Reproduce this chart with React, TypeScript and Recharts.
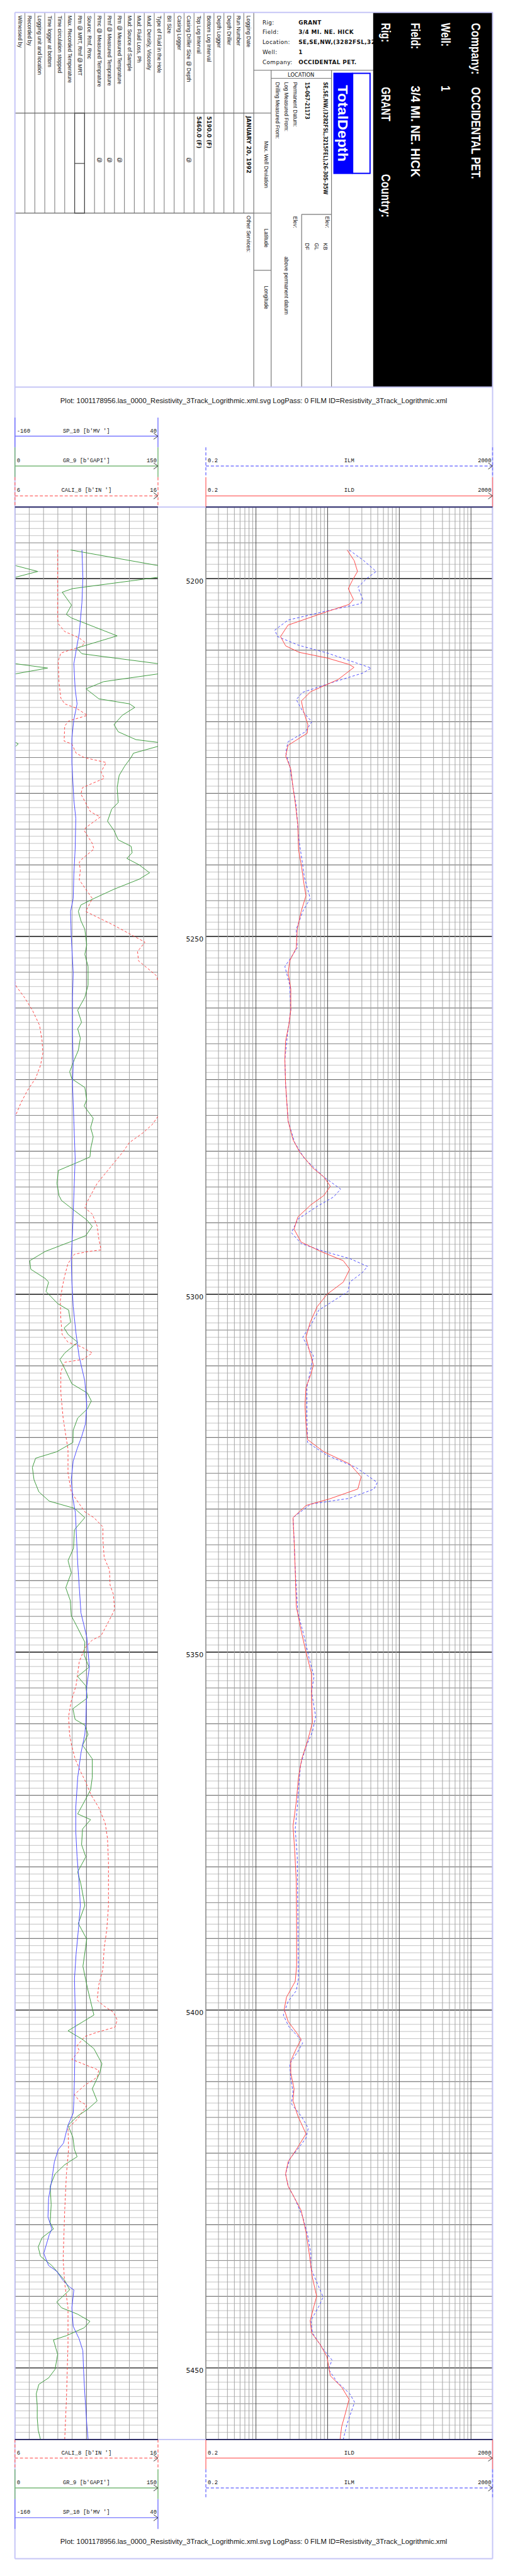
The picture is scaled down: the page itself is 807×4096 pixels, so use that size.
import { LineChart, Line, XAxis, YAxis, ReferenceLine } from 'recharts'

// depth interval of the plot, feet
const DEPTH_RANGE = [5190, 5460]
const DEPTH_LABELS = [5200, 5250, 5300, 5350, 5400, 5450]

// [depth, value]
const SP: [number, number][] = [
  [5196.0, -66.3], [5199.8, -65.0], [5203.3, -66.3], [5207.6, -70.0], [5209.8, -74.0], [5211.9, -77.6],
  [5215.4, -75.8], [5217.5, -73.1], [5219.7, -77.6], [5222.3, -80.4], [5225.7, -80.4], [5230.9, -77.6],
  [5233.5, -74.9], [5237.8, -75.8], [5241.3, -77.6], [5244.7, -78.5], [5246.5, -82.2], [5249.9, -81.3],
  [5255.1, -78.5], [5258.5, -79.5], [5263.7, -79.5], [5268.0, -78.5], [5270.6, -79.5], [5275.8, -77.6],
  [5281.0, -75.8], [5286.2, -77.6], [5291.4, -79.5], [5294.8, -81.3], [5298.3, -80.4], [5301.7, -78.5],
  [5305.2, -74.9], [5308.6, -70.4], [5312.1, -62.3], [5315.5, -59.5], [5318.1, -61.4], [5319.9, -66.8],
  [5321.6, -73.1], [5323.3, -78.5], [5325.9, -81.3], [5328.5, -79.0], [5330.5, -75.5], [5337.6, -72.2],
  [5344.5, -67.7], [5347.9, -59.5], [5350.0, -57.7], [5352.1, -55.9], [5354.7, -59.5], [5359.8, -60.9],
  [5361.5, -62.3], [5364.1, -67.7], [5367.5, -72.2], [5371.7, -74.9], [5375.1, -74.9], [5378.6, -73.1],
  [5382.0, -70.4], [5385.4, -68.6], [5388.8, -71.3], [5392.2, -74.5], [5395.6, -76.7], [5399.9, -75.8],
  [5404.1, -75.8], [5409.3, -76.7], [5412.7, -77.6], [5414.4, -78.5], [5416.1, -85.8], [5418.6, -92.1],
  [5419.5, -99.4], [5421.2, -104.8], [5423.7, -108.4], [5426.3, -112.9], [5428.9, -113.8], [5430.6, -108.4],
  [5431.4, -112.0], [5434.0, -119.7], [5435.7, -112.9], [5436.5, -101.6], [5437.8, -92.6], [5438.7, -83.5],
  [5439.1, -77.6], [5441.6, -80.4], [5444.2, -78.5], [5445.9, -70.4], [5447.6, -65.0], [5450.2, -64.1],
  [5453.6, -62.3], [5457.9, -59.5], [5460.0, -57.7],
]

const GR: [number, number][] = [
  [5196.0, 58.3], [5198.2, 151], [5199.0, 174], [5199.8, 151], [5201.4, 60.4], [5201.9, 49.6],
  [5203.7, 59.3], [5205.0, 53.9], [5205.5, 59.3], [5208.0, 107.2], [5209.7, 64.8], [5210.5, 70.2],
  [5211.9, 151], [5212.5, 184.3], [5213.3, 151], [5214.4, 93.0], [5215.4, 74.6], [5216.8, 88.0],
  [5217.5, 120.2], [5218.0, 125.7], [5219.1, 112.6], [5220.4, 103.9], [5221.4, 108.3], [5222.5, 126.9],
  [5222.9, 151], [5223.1, 153.5], [5223.4, 151], [5224.4, 124.2], [5225.0, 121.8], [5226.2, 115.1],
  [5227.5, 109.3], [5229.2, 107.2], [5231.3, 108.3], [5232.2, 101.5], [5233.9, 97.1], [5235.2, 103.9],
  [5236.5, 108.3], [5237.4, 121.8], [5238.3, 122.9], [5239.1, 117.4], [5240.0, 130.3], [5241.1, 141.2],
  [5242.0, 130.3], [5243.4, 103.9], [5244.7, 82.8], [5245.6, 69.2], [5246.5, 66.5], [5247.8, 69.2],
  [5249.0, 73.3], [5251.2, 75.3], [5252.5, 73.3], [5254.2, 76.7], [5256.8, 76.7], [5258.5, 73.3],
  [5260.3, 65.8], [5262.0, 69.9], [5262.9, 65.8], [5264.2, 68.6], [5265.9, 66.5], [5267.2, 62.4],
  [5268.9, 57.4], [5269.9, 59.7], [5271.1, 73.3], [5272.8, 75.3], [5273.7, 72.6], [5275.4, 82.1],
  [5276.7, 79.4], [5278.0, 82.1], [5279.7, 79.4], [5280.8, 78.7], [5281.4, 68.6], [5282.7, 45.5],
  [5284.5, 44.1], [5286.2, 46.2], [5286.9, 48.9], [5288.3, 62.4], [5289.6, 75.3], [5290.5, 81.1],
  [5291.8, 74.3], [5292.7, 57.4], [5294.0, 31.9], [5295.3, 15.6], [5296.5, 16.6], [5297.8, 31.9],
  [5298.3, 35.3], [5299.6, 32.6], [5301.3, 44.8], [5302.2, 56.3], [5303.9, 58.4], [5304.7, 51.6],
  [5305.6, 55.7], [5306.7, 65.8], [5308.2, 52.3], [5309.1, 47.2], [5310.4, 52.3], [5312.5, 59.7],
  [5313.8, 76.0], [5314.9, 80.1], [5316.0, 76.0], [5317.3, 65.8], [5319.0, 61.1], [5320.7, 60.8],
  [5322.0, 43.8], [5322.9, 21.7], [5324.2, 18.3], [5325.9, 20.0], [5327.6, 25.1], [5328.9, 36.0],
  [5329.9, 62.4], [5331.2, 73.3], [5332.9, 62.4], [5335.5, 61.4], [5337.2, 55.7], [5338.9, 59.1],
  [5341.0, 53.3], [5342.8, 58.1], [5344.9, 59.1], [5346.2, 64.2], [5348.6, 73.3], [5350.4, 72.6],
  [5352.1, 77.7], [5353.4, 65.8], [5354.7, 74.3], [5356.4, 76.0], [5357.9, 60.8], [5359.4, 63.1],
  [5360.2, 73.3], [5361.5, 76.7], [5363.0, 70.9], [5364.9, 81.1], [5367.5, 81.1], [5369.2, 79.4],
  [5370.5, 74.3], [5372.6, 65.8], [5373.4, 79.4], [5374.7, 70.9], [5376.9, 69.9], [5378.6, 74.3],
  [5380.7, 65.8], [5382.4, 69.2], [5385.4, 73.3], [5387.9, 66.5], [5390.1, 75.3], [5393.9, 71.3],
  [5396.9, 76.0], [5400.7, 82.8], [5402.9, 55.7], [5404.1, 70.9], [5405.4, 82.8], [5407.5, 91.3],
  [5408.8, 88.9], [5411.0, 81.1], [5412.7, 86.2], [5413.9, 76.0], [5414.8, 65.8], [5416.1, 55.7],
  [5417.8, 60.8], [5419.5, 62.4], [5420.5, 65.2], [5421.6, 52.3], [5422.9, 42.1], [5424.6, 37.0],
  [5427.2, 38.0], [5429.7, 37.0], [5430.6, 40.4], [5431.8, 28.5], [5433.1, 24.4], [5434.4, 26.8],
  [5435.7, 38.7], [5437.8, 52.3], [5439.1, 57.4], [5440.8, 43.8], [5441.6, 48.9], [5442.5, 65.8],
  [5443.5, 78.7], [5444.4, 72.6], [5445.5, 54.0], [5446.1, 40.4], [5447.2, 42.8], [5448.1, 44.8],
  [5450.2, 42.1], [5451.4, 35.3], [5452.3, 25.1], [5453.6, 22.4], [5455.3, 23.4], [5457.0, 23.4],
  [5458.7, 24.4], [5460.0, 26.8],
]

const CALI: [number, number][] = [
  [5196.0, 8.99], [5205.7, 8.99], [5206.3, 9.03], [5207.4, 9.48], [5208.3, 10.5], [5208.9, 10.89],
  [5209.5, 10.66], [5210.0, 9.82], [5210.4, 9.21], [5211.5, 9.03], [5214.5, 9.08], [5216.7, 9.21],
  [5217.5, 9.48], [5218.1, 10.28], [5219.1, 11.07], [5219.9, 9.75], [5220.6, 9.48], [5222.7, 9.44],
  [5223.1, 9.98], [5224.4, 10.28], [5225.0, 10.84], [5225.7, 12.38], [5227.0, 12.02], [5227.9, 12.25],
  [5229.2, 10.73], [5230.1, 10.61], [5231.8, 11.07], [5232.6, 11.29], [5233.3, 11.97], [5234.8, 10.95],
  [5235.2, 10.84], [5237.0, 11.41], [5237.8, 11.52], [5239.1, 10.73], [5239.6, 10.5], [5240.8, 10.57],
  [5242.1, 10.5], [5243.4, 10.95], [5244.7, 11.41], [5246.5, 10.95], [5247.3, 11.75], [5248.4, 12.88],
  [5250.8, 15.09], [5252.1, 14.57], [5253.4, 14.64], [5255.5, 15.9], [5257.0, 16.1], [5258.5, 16.66],
  [5260.3, 17.22], [5262.4, 17.72], [5264.6, 17.9], [5266.3, 17.95], [5268.0, 17.79], [5269.8, 17.45],
  [5271.5, 16.88], [5273.2, 16.43], [5275.0, 16.05], [5276.3, 15.59], [5277.5, 14.91], [5278.8, 14.0],
  [5280.1, 13.55], [5282.3, 12.65], [5284.5, 11.75], [5287.0, 11.07], [5287.9, 10.89], [5288.8, 11.41],
  [5290.5, 11.75], [5292.2, 11.86], [5293.8, 12.02], [5294.0, 11.18], [5294.4, 10.16], [5295.7, 9.71],
  [5297.4, 9.48], [5299.1, 9.3], [5300.9, 9.17], [5303.5, 9.21], [5305.6, 9.3], [5306.7, 9.71],
  [5307.3, 10.61], [5308.2, 11.41], [5309.1, 10.73], [5309.5, 9.48], [5310.8, 9.21], [5313.8, 9.21],
  [5317.3, 9.37], [5320.3, 9.6], [5321.6, 9.71], [5325.0, 9.71], [5327.6, 9.94], [5328.3, 10.16],
  [5330.4, 10.89], [5331.2, 11.52], [5332.5, 12.15], [5334.2, 12.15], [5336.8, 12.24], [5338.5, 12.61],
  [5340.6, 12.65], [5341.9, 12.88], [5344.0, 12.97], [5344.9, 12.76], [5346.2, 12.42], [5347.7, 12.02],
  [5348.3, 11.41], [5349.4, 10.89], [5351.3, 10.5], [5353.0, 10.39], [5354.7, 10.27], [5356.8, 9.94],
  [5359.0, 9.75], [5361.5, 9.82], [5363.2, 9.98], [5364.9, 10.21], [5366.6, 10.57], [5367.9, 10.89],
  [5370.0, 11.34], [5371.7, 11.86], [5373.9, 12.31], [5376.0, 12.47], [5379.4, 12.54], [5385.4, 12.54],
  [5388.8, 12.42], [5391.3, 12.24], [5394.3, 12.15], [5396.5, 11.86], [5398.6, 11.75], [5399.4, 12.2],
  [5400.3, 12.88], [5401.4, 13.15], [5402.4, 12.99], [5403.1, 11.75], [5403.7, 10.89], [5405.0, 10.34],
  [5405.7, 10.5], [5406.9, 9.98], [5408.4, 11.86], [5409.4, 11.75], [5410.5, 10.89], [5411.8, 10.16],
  [5412.7, 10.5], [5413.3, 11.02], [5415.2, 10.39], [5416.5, 9.71], [5419.5, 9.75], [5422.9, 9.6],
  [5428.0, 9.48], [5434.8, 9.37], [5438.2, 9.48], [5441.6, 9.71], [5446.7, 9.71], [5450.2, 9.66],
  [5454.4, 9.6], [5460.0, 9.48],
]

const ILD: [number, number][] = [
  [5196.0, 18.7], [5197.5, 23.5], [5199.0, 26.1], [5200.3, 22.0], [5201.4, 19.4], [5202.9, 22.9],
  [5203.6, 20.0], [5204.6, 9.9], [5206.5, 2.8], [5208.1, 2.2], [5209.4, 2.6], [5210.3, 4.0],
  [5211.1, 9.9], [5212.0, 20.0], [5212.4, 23.3], [5214.1, 14.0], [5215.8, 5.8], [5217.1, 4.3],
  [5218.5, 4.6], [5220.4, 5.3], [5221.6, 5.2], [5223.3, 2.8], [5224.8, 2.6], [5226.6, 3.06],
  [5229.2, 3.29], [5231.3, 3.53], [5234.4, 3.84], [5237.8, 3.92], [5240.4, 4.35], [5243.0, 4.73],
  [5244.3, 4.99], [5246.5, 4.27], [5249.0, 3.77], [5251.6, 3.65], [5253.4, 2.96], [5255.1, 2.81],
  [5257.3, 3.06], [5260.3, 3.06], [5262.4, 2.87], [5264.6, 2.59], [5267.2, 2.53], [5270.6, 2.59],
  [5275.8, 2.81], [5278.4, 3.29], [5280.1, 4.05], [5282.3, 6.14], [5283.6, 8.84], [5284.9, 10.9],
  [5286.2, 8.84], [5287.5, 5.83], [5289.2, 3.84], [5290.9, 3.4], [5292.7, 4.27], [5294.0, 7.96],
  [5295.3, 16.5], [5296.5, 20.3], [5298.3, 16.5], [5300.0, 9.81], [5301.7, 7.18], [5303.9, 5.71],
  [5306.0, 4.99], [5307.8, 5.53], [5309.9, 6.34], [5311.2, 5.83], [5313.0, 4.99], [5315.5, 4.83],
  [5318.1, 4.99], [5320.3, 5.25], [5322.0, 8.84], [5323.7, 20.3], [5325.5, 29.3], [5327.2, 26.4],
  [5328.6, 10.5], [5329.5, 5.0], [5331.2, 3.29], [5334.2, 3.4], [5338.5, 3.53], [5343.6, 3.65],
  [5347.0, 4.27], [5350.0, 4.99], [5353.0, 5.96], [5356.4, 5.96], [5359.8, 6.14], [5362.4, 5.25],
  [5364.9, 4.35], [5367.5, 3.92], [5370.9, 3.65], [5374.3, 3.29], [5377.7, 3.47], [5382.0, 3.65],
  [5388.8, 3.69], [5393.9, 3.69], [5396.0, 3.53], [5398.2, 2.67], [5399.9, 2.48], [5401.6, 2.81],
  [5403.1, 3.65], [5404.1, 4.27], [5405.4, 3.65], [5407.1, 3.06], [5408.8, 3.06], [5411.0, 3.4],
  [5412.7, 3.29], [5414.8, 3.84], [5417.3, 4.99], [5419.5, 3.65], [5421.2, 2.81], [5422.9, 2.59],
  [5424.6, 2.81], [5426.3, 3.47], [5428.0, 4.27], [5431.0, 4.99], [5434.0, 5.53], [5437.4, 6.14],
  [5440.0, 7.03], [5441.3, 6.47], [5443.4, 5.71], [5445.1, 5.96], [5446.8, 7.96], [5448.5, 9.81],
  [5451.1, 10.9], [5452.7, 15.7], [5454.4, 19.9], [5456.6, 17.4], [5458.2, 15.7], [5460.0, 14.9],
]

const ILM: [number, number][] = [
  [5196.0, 20.0], [5197.5, 32.0], [5199.0, 47.5], [5200.0, 35.0], [5201.2, 26.5], [5202.9, 30.9],
  [5203.5, 29.0], [5204.5, 9.9], [5205.8, 2.8], [5207.2, 1.83], [5208.1, 2.0], [5209.3, 3.9],
  [5210.4, 9.9], [5211.6, 22.2], [5212.5, 40.5], [5213.2, 30.9], [5214.5, 11.7], [5215.9, 4.45],
  [5216.9, 3.65], [5218.5, 4.45], [5220.0, 6.0], [5221.4, 4.9], [5222.8, 2.8], [5224.3, 2.6],
  [5226.2, 2.96], [5229.2, 3.29], [5231.8, 3.65], [5236.1, 3.92], [5240.0, 4.49], [5241.7, 4.73],
  [5244.7, 5.71], [5246.5, 4.49], [5249.0, 3.65], [5251.6, 3.77], [5253.2, 2.96], [5254.2, 2.53],
  [5256.8, 2.96], [5260.3, 3.06], [5263.7, 2.75], [5267.2, 2.53], [5270.6, 2.59], [5275.8, 2.81],
  [5278.8, 3.47], [5281.0, 4.73], [5283.6, 8.84], [5285.3, 15.2], [5286.4, 12.1], [5287.7, 7.18],
  [5289.5, 3.84], [5291.4, 3.12], [5292.9, 4.27], [5294.0, 8.84], [5295.0, 20.3], [5296.1, 36.0],
  [5297.0, 30.2], [5298.3, 20.3], [5299.6, 19.3], [5300.9, 12.1], [5302.2, 7.55], [5303.9, 6.14],
  [5306.0, 4.49], [5307.3, 5.25], [5308.6, 6.34], [5310.8, 5.71], [5313.0, 5.14], [5317.3, 5.14],
  [5320.7, 5.25], [5322.5, 9.81], [5324.2, 25.0], [5326.3, 49.3], [5327.2, 44.4], [5328.5, 20.3],
  [5329.3, 5.83], [5331.2, 3.29], [5334.2, 3.4], [5338.5, 3.53], [5344.5, 3.84], [5347.9, 4.73],
  [5350.9, 5.53], [5353.4, 6.47], [5355.5, 5.96], [5359.0, 6.81], [5361.1, 6.14], [5363.2, 4.99],
  [5365.8, 4.18], [5369.2, 3.92], [5371.7, 3.77], [5374.7, 3.53], [5378.6, 3.77], [5387.1, 3.84],
  [5395.6, 3.92], [5397.3, 3.65], [5398.8, 2.81], [5400.7, 2.41], [5402.3, 2.87], [5403.7, 3.84],
  [5404.6, 4.49], [5405.8, 3.84], [5407.5, 2.96], [5409.7, 3.06], [5411.4, 3.29], [5413.1, 3.12],
  [5414.8, 4.27], [5416.5, 5.36], [5417.9, 4.99], [5419.5, 3.77], [5420.8, 2.96], [5422.9, 2.59],
  [5424.6, 2.81], [5426.3, 3.47], [5428.9, 4.49], [5431.4, 5.25], [5434.0, 5.83], [5436.1, 5.83],
  [5438.2, 7.18], [5440.1, 8.65], [5441.4, 7.55], [5443.4, 5.83], [5445.1, 6.14], [5447.2, 8.39],
  [5448.9, 11.5], [5450.2, 10.3], [5451.9, 13.4], [5453.6, 20.3], [5454.8, 23.8], [5456.1, 21.4],
  [5457.8, 18.7], [5460.0, 16.5],
]

// track scales
const SP_SCALE = [-160, 40]
const GR_SCALE = [0, 150]
const CALI_SCALE = [6, 16]
const RES_SCALE = [0.2, 2000]
const LIN_DIVS = [0, 1, 2, 3, 4, 5, 6, 7, 8, 9, 10]
const LOG_LINES = [0.2, 0.3, 0.4, 0.5, 0.6, 0.7, 0.8, 0.9, 1, 2, 3, 4, 5, 6, 7, 8, 9, 10, 20, 30, 40, 50, 60, 70, 80, 90,
  100, 200, 300, 400, 500, 600, 700, 800, 900, 1000, 2000]

const HEADER_ROWS = [
  'Logging Date', 'Run Number', 'Depth Driller', 'Depth Logger', 'Bottom Log Interval', 'Top Log Interval',
  'Casing Driller Size @ Depth', 'Casing Logger', 'Bit Size', 'Type of Fluid in the Hole', 'Mud: Density, Viscosity',
  'Mud: Fluid Loss, Ph', 'Mud: Source of Sample', 'Rm @ Measured Temprature', 'Rmf @ Measured Temprature',
  'Rmc @ Measured Temprature', 'Source: Rmf, Rmc', 'Rm @ MRT, Rmf @ MRT', 'Max. Recorded Temperature',
  'Time circulation stopped', 'Time logger at bottom', 'Logging unit and location', 'Recorded by', 'Witnessed by',
]

const TITLE = "Plot: 1001178956.las_0000_Resistivity_3Track_Logrithmic.xml.svg LogPass: 0 FILM ID=Resistivity_3Track_Logrithmic.xml"

const SANS = '"Liberation Sans", Arial, sans-serif'
const NARROW = '"Liberation Sans Narrow", "Liberation Sans", Arial, sans-serif'
const DEJAVU = '"DejaVu Sans", Verdana, sans-serif'
const MONO = '"Liberation Mono", "Courier New", monospace'

const BLUE = '#4b4bff'
const GREEN = '#3d9a3d'
const RED = '#ff4545'
const FRAME = '#c6c6f6'

// split a curve into runs that stay inside the track; a value off one edge
// comes back in from the other edge
function wrapCurve(points: [number, number][], lo: number, hi: number) {
  const span = hi - lo
  const band = (v: number) => Math.floor((v - lo) / span)
  const runs: { depth: number; v: number }[][] = [[]]
  points.forEach(([d, v], i) => {
    if (i > 0) {
      const [d0, v0] = points[i - 1]
      let k = band(v0)
      const k1 = band(v)
      while (k !== k1) {
        const up = k1 > k
        const edge = lo + span * (up ? k + 1 : k)
        const dc = d0 + ((edge - v0) / (v - v0)) * (d - d0)
        runs[runs.length - 1].push({ depth: dc, v: up ? hi : lo })
        runs.push([{ depth: dc, v: up ? lo : hi }])
        k += up ? 1 : -1
      }
    }
    runs[runs.length - 1].push({ depth: d, v: v - band(v) * span })
  })
  return runs
}

const asRows = (points: [number, number][]) => points.map(([depth, v]) => ({ depth, v }))

const feet: number[] = []
for (let d = DEPTH_RANGE[0]; d <= DEPTH_RANGE[1]; d++) feet.push(d)

function depthLine(d: number) {
  if (d % 50 === 0) return { stroke: '#111', strokeWidth: 1.4 }
  if (d % 10 === 0) return { stroke: '#555', strokeWidth: 1 }
  if (d % 5 === 0) return { stroke: '#808080', strokeWidth: 1 }
  return { stroke: '#c2c2c2', strokeWidth: 1 }
}

const DepthTick = ({ x, y, payload }: any) => (
  <text x={x} y={y + 8} textAnchor="end" fontSize={11} fontFamily={DEJAVU} fill="#111">{payload.value}</text>
)

function LinearTrack() {
  const curves = [
    { name: 'cali', pts: CALI, scale: CALI_SCALE, color: RED, dash: '4 3' },
    { name: 'gr', pts: GR, scale: GR_SCALE, color: GREEN, dash: undefined },
    { name: 'sp', pts: SP, scale: SP_SCALE, color: BLUE, dash: undefined },
  ]
  return (
    <LineChart layout="vertical" width={230} height={3110} margin={{ top: 0, right: 0, bottom: 0, left: 0 }}>
      <XAxis type="number" domain={[0, 10]} hide allowDataOverflow />
      <XAxis xAxisId="sp" type="number" domain={SP_SCALE} hide allowDataOverflow />
      <XAxis xAxisId="gr" type="number" domain={GR_SCALE} hide allowDataOverflow />
      <XAxis xAxisId="cali" type="number" domain={CALI_SCALE} hide allowDataOverflow />
      <YAxis type="number" dataKey="depth" domain={DEPTH_RANGE} hide allowDataOverflow />
      {feet.map(d => <ReferenceLine key={'h' + d} y={d} {...depthLine(d)} />)}
      {LIN_DIVS.map(k => (
        <ReferenceLine key={'v' + k} x={k} stroke={k === 5 || k === 0 || k === 10 ? '#6a6a6a' : '#a4a4a4'}
          strokeWidth={k === 0 || k === 10 ? 1.5 : 1} />
      ))}
      {curves.flatMap(c => wrapCurve(c.pts, c.scale[0], c.scale[1]).map((run, i) => (
        <Line key={c.name + i} data={run} xAxisId={c.name} dataKey="v" type="linear" stroke={c.color}
          strokeWidth={1} strokeDasharray={c.dash} dot={false} activeDot={false} isAnimationActive={false} />
      )))}
    </LineChart>
  )
}

function LogTrack() {
  return (
    <LineChart layout="vertical" width={538} height={3110} margin={{ top: 0, right: 0, bottom: 0, left: 0 }}>
      <XAxis type="number" scale="log" domain={RES_SCALE} hide allowDataOverflow />
      <YAxis type="number" dataKey="depth" domain={DEPTH_RANGE} width={77} ticks={DEPTH_LABELS} interval={0}
        axisLine={false} tickLine={false} tickSize={0} tickMargin={4} tick={<DepthTick />} allowDataOverflow />
      {feet.map(d => <ReferenceLine key={'h' + d} y={d} {...depthLine(d)} />)}
      {LOG_LINES.map(v => {
        const decade = [1, 10, 100, 1000].includes(v)
        const edge = v === 0.2 || v === 2000
        return <ReferenceLine key={'v' + v} x={v} stroke={decade ? '#4a4a4a' : edge ? '#808080' : '#a4a4a4'}
          strokeWidth={edge ? 1.5 : 1} />
      })}
      <Line data={asRows(ILM)} dataKey="v" type="linear" stroke={BLUE} strokeWidth={1} strokeDasharray="4 3"
        dot={false} activeDot={false} isAnimationActive={false} />
      <Line data={asRows(ILD)} dataKey="v" type="linear" stroke={RED} strokeWidth={1}
        dot={false} activeDot={false} isAnimationActive={false} />
    </LineChart>
  )
}

// one row of a track header: edge marks, scale line with arrow, min / name / max
function HeadRow({ x0, x1, top, lo, name, hi, color, dash }: any) {
  const ly = top + 30
  const da = dash ? '5 3' : undefined
  return (
    <g>
      <line x1={x0} y1={top} x2={x0} y2={top + 48} stroke={color} strokeWidth={1.5} strokeDasharray={da} />
      <line x1={x1} y1={top} x2={x1} y2={top + 48} stroke={color} strokeWidth={1.5} strokeDasharray={da} />
      <line x1={x0} y1={ly} x2={x1} y2={ly} stroke={color} strokeWidth={1.5} strokeDasharray={da} />
      <polyline points={`${x1 - 7},${ly - 5} ${x1},${ly} ${x1 - 7},${ly + 5}`} fill="none" stroke="#333" strokeWidth={1} />
      <g fontFamily={MONO} fontSize={9} fill="#111">
        <text x={x0 + 3} y={ly - 6}>{lo}</text>
        <text x={(x0 + x1) / 2} y={ly - 6} textAnchor="middle">{name}</text>
        <text x={x1 - 2} y={ly - 6} textAnchor="end">{hi}</text>
      </g>
    </g>
  )
}

// text rotated a quarter turn clockwise; x is the baseline, y where it starts
function VT({ x, y, children, size = 8.6, bold = false, fill = '#111', family = SANS, len }: any) {
  return (
    <text transform={`translate(${x},${y}) rotate(90)`} fontSize={size} fontWeight={bold ? 700 : 400}
      fill={fill} fontFamily={family} textLength={len} lengthAdjust={len ? 'spacingAndGlyphs' : undefined}>
      {children}
    </text>
  )
}

const T1 = { x0: 24, x1: 254 }
const T3 = { x0: 331, x1: 792 }

function Overlay() {
  const lineGrey = '#8a8a8a'
  return (
    <svg width={816} height={4142} style={{ position: 'absolute', left: 0, top: 0, pointerEvents: 'none' }}>
      {/* ---------- heading block ---------- */}
      {HEADER_ROWS.map((_, i) => i > 0 && (
        <line key={'r' + i} x1={408 - 16 * i} y1={20} x2={408 - 16 * i} y2={343} stroke={lineGrey} strokeWidth={1.2} />
      ))}
      <line x1={24} y1={182} x2={408} y2={182} stroke="#666" strokeWidth={1.2} />
      <line x1={24} y1={343} x2={408} y2={343} stroke="#666" strokeWidth={1.2} />
      <rect x={120} y={182} width={16} height={161} fill="none" stroke="#444" strokeWidth={1.2} />
      <line x1={120} y1={263} x2={136} y2={263} stroke="#444" strokeWidth={1.2} />
      {HEADER_ROWS.map((t, i) => <VT key={'l' + i} x={397 - 16 * i} y={25}>{t}</VT>)}
      <VT x={397} y={187} bold family={DEJAVU} size={9} len={92}>JANUARY 20, 1992</VT>
      <VT x={333} y={187} bold family={DEJAVU} size={9} len={52}>5190.0 (F)</VT>
      <VT x={317} y={187} bold family={DEJAVU} size={9} len={52}>5460.0 (F)</VT>
      {[6, 13, 14, 15].map(i => <VT key={'at' + i} x={397 - 16 * i} y={253}>@</VT>)}
      <VT x={397} y={347}>Other Services:</VT>

      {/* small box with plain text */}
      <g fontFamily={DEJAVU} fontSize={9} fill="#111">
        {[['Rig:', 'GRANT'], ['Field:', '3/4 MI. NE. HICK'], ['Location:', 'SE,SE,NW,(3282FSL,3215FEL),26-30S-35W'],
          ['Well:', '1'], ['Company:', 'OCCIDENTAL PET.']].map(([a, b], i) => (
          <g key={a}>
            <text x={422} y={39 + 16 * i} letterSpacing={0.4}>{a}</text>
            <text x={480} y={39 + 16 * i} fontWeight={700} letterSpacing={0.4}>{b}</text>
          </g>
        ))}
      </g>
      <line x1={408} y1={113} x2={600} y2={113} stroke={lineGrey} strokeWidth={1.2} />
      <line x1={408} y1={20} x2={408} y2={623} stroke="#777" strokeWidth={1.2} />

      {/* well location block */}
      <line x1={436} y1={113} x2={436} y2={623} stroke="#777" strokeWidth={1.2} />
      <line x1={533} y1={113} x2={533} y2={623} stroke="#777" strokeWidth={1.2} />
      <line x1={436} y1={126} x2={533} y2={126} stroke="#777" strokeWidth={1.2} />
      <line x1={485} y1={345} x2={533} y2={345} stroke="#777" strokeWidth={1.2} />
      <line x1={485} y1={345} x2={485} y2={623} stroke="#777" strokeWidth={1.2} />
      {[182, 343, 435].map(y => <line key={'c' + y} x1={408} y1={y} x2={436} y2={y} stroke="#777" strokeWidth={1.2} />)}
      <text x={484} y={123} textAnchor="middle" fontFamily={DEJAVU} fontSize={8.5} fill="#111">LOCATION</text>
      <VT x={520} y={132} bold family={DEJAVU} size={8.4} len={181}>SE,SE,NW,(3282FSL,3215FEL),26-30S-35W</VT>
      <VT x={491} y={132} bold family={DEJAVU} size={8.4} len={60}>15-067-21173</VT>
      <VT x={472} y={132}>Permanent Datum:</VT>
      <VT x={457} y={132}>Log Measured From:</VT>
      <VT x={443} y={132}>Drilling Measured From:</VT>
      <VT x={523} y={348}>Elev:</VT>
      <VT x={520} y={391}>KB</VT>
      <VT x={506} y={391}>GL</VT>
      <VT x={491} y={391}>DF</VT>
      <VT x={472} y={348}>Elev:</VT>
      <VT x={457} y={413}>above permanent datum</VT>
      <VT x={425} y={227}>Max. Well Deviation</VT>
      <VT x={425} y={368}>Latitude</VT>
      <VT x={425} y={460}>Longitude</VT>

      {/* logo */}
      <rect x={536} y={117} width={31} height={163} fill="#0000ff" />
      <rect x={567} y={118} width={28} height={161} fill="#fff" stroke="#0000ff" strokeWidth={2} />
      <VT x={544} y={137} bold size={23} fill="#fff" len={123}>TotalDepth</VT>

      {/* black title block */}
      <rect x={600} y={20} width={192} height={603} fill="#000" />
      <VT x={758} y={37} bold size={20} fill="#fff" family={NARROW} len={83}>Company:</VT>
      <VT x={758} y={140} bold size={20} fill="#fff" family={NARROW} len={148}>OCCIDENTAL PET.</VT>
      <VT x={710} y={37} bold size={20} fill="#fff" family={NARROW} len={38}>Well:</VT>
      <VT x={710} y={138} bold size={20} fill="#fff" family={NARROW} len={9}>1</VT>
      <VT x={661} y={37} bold size={20} fill="#fff" family={NARROW} len={42}>Field:</VT>
      <VT x={661} y={138} bold size={20} fill="#fff" family={NARROW} len={147}>3/4 MI. NE. HICK</VT>
      <VT x={613} y={37} bold size={20} fill="#fff" family={NARROW} len={31}>Rig:</VT>
      <VT x={613} y={140} bold size={20} fill="#fff" family={NARROW} len={55}>GRANT</VT>
      <VT x={613} y={280} bold size={20} fill="#fff" family={NARROW} len={70}>Country:</VT>

      {/* ---------- outer frame ---------- */}
      <line x1={24} y1={20} x2={792} y2={20} stroke={FRAME} strokeWidth={2} />
      <line x1={24} y1={623} x2={792} y2={623} stroke={FRAME} strokeWidth={2} />
      <line x1={24} y1={20} x2={24} y2={4118} stroke={FRAME} strokeWidth={2} />
      <line x1={792} y1={20} x2={792} y2={4118} stroke={FRAME} strokeWidth={2} />
      <line x1={24} y1={4118} x2={792} y2={4118} stroke={FRAME} strokeWidth={2} />
      <line x1={24} y1={816} x2={792} y2={816} stroke={FRAME} strokeWidth={2} />
      <line x1={24} y1={3926} x2={792} y2={3926} stroke={FRAME} strokeWidth={2} />

      <text x={408} y={649} textAnchor="middle" fontFamily={NARROW} fontSize={11.5} fill="#111"
        textLength={622} lengthAdjust="spacingAndGlyphs">{TITLE}</text>
      <text x={408} y={4094} textAnchor="middle" fontFamily={NARROW} fontSize={11.5} fill="#111"
        textLength={622} lengthAdjust="spacingAndGlyphs">{TITLE}</text>

      {/* ---------- track headings, top ---------- */}
      <HeadRow {...T1} top={672} lo="-160" name="SP_10 [b'MV ']" hi="40" color="#7a7aff" />
      <HeadRow {...T1} top={720} lo="0" name="GR_9 [b'GAPI']" hi="150" color="#78b878" />
      <HeadRow {...T1} top={768} lo="6" name="CALI_8 [b'IN ']" hi="16" color="#ff7a7a" dash />
      <HeadRow {...T3} top={720} lo="0.2" name="ILM" hi="2000" color="#7a7aff" dash />
      <HeadRow {...T3} top={768} lo="0.2" name="ILD" hi="2000" color="#ff7a7a" />

      {/* ---------- track headings, bottom ---------- */}
      <HeadRow {...T1} top={3926} lo="6" name="CALI_8 [b'IN ']" hi="16" color="#ff7a7a" dash />
      <HeadRow {...T1} top={3974} lo="0" name="GR_9 [b'GAPI']" hi="150" color="#78b878" />
      <HeadRow {...T1} top={4022} lo="-160" name="SP_10 [b'MV ']" hi="40" color="#7a7aff" />
      <HeadRow {...T3} top={3926} lo="0.2" name="ILD" hi="2000" color="#ff7a7a" />
      <HeadRow {...T3} top={3974} lo="0.2" name="ILM" hi="2000" color="#7a7aff" dash />

      {/* dark top and bottom of the tracks */}
      {[816, 3926].map(y => (
        <g key={'tb' + y}>
          <line x1={T1.x0} y1={y} x2={T1.x1} y2={y} stroke="#30306a" strokeWidth={2} />
          <line x1={T3.x0} y1={y} x2={T3.x1} y2={y} stroke="#30306a" strokeWidth={2} />
        </g>
      ))}
    </svg>
  )
}

export default function App() {
  return (
    <div style={{ position: 'absolute', left: 0, top: 0, width: 807, height: 4096, overflow: 'hidden', background: '#fff' }}>
      <div style={{ position: 'absolute', left: 0, top: 0, width: 816, height: 4142, transform: 'scale(0.988)', transformOrigin: '0 0' }}>
        <div style={{ position: 'absolute', left: 24, top: 816 }}>
          <LinearTrack />
        </div>
        <div style={{ position: 'absolute', left: 254, top: 816 }}>
          <LogTrack />
        </div>
        <Overlay />
      </div>
    </div>
  )
}
